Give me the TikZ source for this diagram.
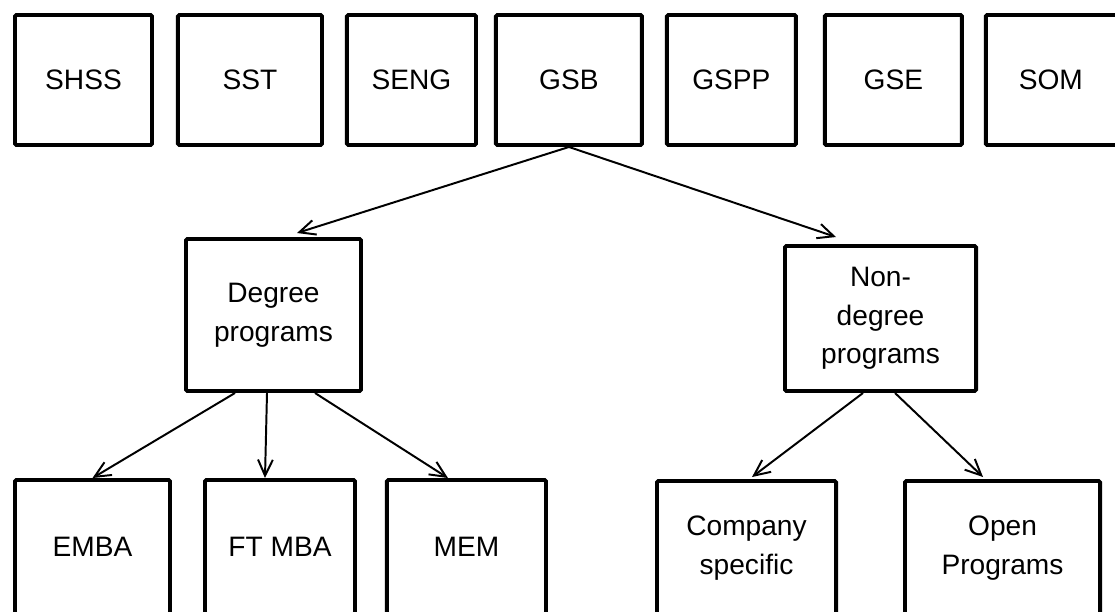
\documentclass[tikz,border=0pt]{standalone}
\usepackage{fontspec}
\setmainfont{Liberation Sans}
\usetikzlibrary{calc, arrows.meta, positioning}

\begin{document}
\begin{tikzpicture}[x=0.025cm, y=-0.025cm,
    box/.style={draw, line width=2.8pt, rounded corners=1pt, align=center,
                inner sep=0pt, minimum height=3.25cm,
                font=\fontsize{20}{27.5}\selectfont},
    arr/.style={-{Straight Barb[length=4mm, width=3.7mm]}, line width=1.4pt}
  ]
  \useasboundingbox (0,0) rectangle (1115,611);

  % schools
  \node[box, minimum width=3.425cm] (shss) at (83.5,80) {SHSS};
  \node[box, minimum width=3.6cm,   right=0.55cm of shss]  (sst)  {SST};
  \node[box, minimum width=3.225cm, right=0.525cm of sst]  (seng) {SENG};
  \node[box, minimum width=3.65cm,  right=0.4cm of seng]   (gsb)  {GSB};
  \node[box, minimum width=3.225cm, right=0.525cm of gsb]  (gspp) {GSPP};
  \node[box, minimum width=3.425cm, right=0.625cm of gspp] (gse)  {GSE};
  \node[box, minimum width=3.6cm,   right=0.5cm of gse]    (som)  {\hspace*{-0.35cm}SOM};

  % GSB programs
  \node[box, minimum width=4.375cm, minimum height=3.8cm] (deg) at (273.5,315) {Degree\\programs};
  \node[box, minimum width=4.775cm, minimum height=3.625cm] (nondeg) at (880.5,318.5) {Non-\\degree\\programs};

  \node[box, minimum width=3.875cm, minimum height=3.35cm] (emba) at (92.5,547) {EMBA};
  \node[box, minimum width=3.75cm,  minimum height=3.35cm, right=0.775cm of emba]  (ftmba) {FT MBA};
  \node[box, minimum width=3.975cm, minimum height=3.35cm, right=0.7cm of ftmba]   (mem)   {MEM};

  \node[box, minimum width=4.475cm, minimum height=3.35cm] (comp) at (746.5,548) {Company\\specific};
  \node[box, minimum width=4.875cm, minimum height=3.35cm, right=1.625cm of comp]  (open)  {Open\\Programs};

  \draw[arr] (gsb.south) -- ($(deg.north)+(23.5,-4)$);
  \draw[arr] (gsb.south) -- ($(nondeg.north)+(-44.5,-7)$);

  \draw[arr] ($(deg.south)+(-38.5,0)$) -- (emba.north);
  \draw[arr] ($(deg.south)+(-6.5,0)$)  -- ($(ftmba.north)+(-15,0)$);
  \draw[arr] ($(deg.south)+(41.5,0)$)  -- ($(mem.north)+(-18.5,0)$);

  \draw[arr] ($(nondeg.south)+(-17.5,0)$) -- ($(comp.north)+(5.5,-2)$);
  \draw[arr] ($(nondeg.south)+(14.5,0)$)  -- ($(open.north)+(-19.5,-2)$);

\end{tikzpicture}
\end{document}
